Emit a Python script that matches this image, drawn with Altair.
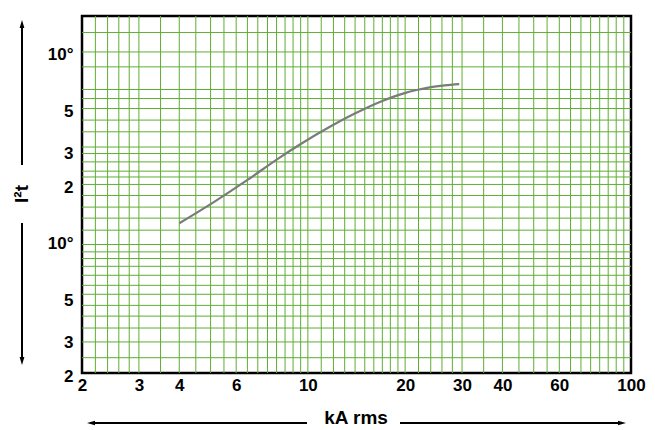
import altair as alt
import pandas as pd

# curve data (kA rms vs I²t)
curve_x = [4, 5.13, 6.47, 8.2, 9.45, 11.7, 13.97, 16.7, 19.93, 21.7, 23.8, 26.5, 29.4]
curve_y = [12.4, 16.1, 20.9, 27.7, 32.4, 40.2, 47.2, 54.4, 60.6, 62.9, 65.0, 66.6, 67.6]

# tick labels
x_ticks = [2, 3, 4, 6, 10, 20, 30, 40, 60, 100]
y_ticks = [2, 3, 5, 10, 20, 30, 50, 100]

# grid lines
x_grid = [2.2, 2.4, 2.6, 2.8, 3, 3.5, 4, 4.5, 5, 5.5, 6, 6.5, 7, 7.5, 8, 8.5, 9, 9.5,
          10, 11, 12, 13, 14, 15, 16, 17, 18, 19, 20, 22, 24, 26, 28, 30,
          35, 40, 45, 50, 55, 60, 65, 70, 75, 80, 85, 90, 95]
y_grid = [2.41, 2.92, 3.46, 4.0, 4.56, 5.22, 5.82, 6.58, 7.34, 8.07, 8.75, 9.57,
          11.4, 13.2, 15.1, 17.4, 19.9, 21.8, 23.4, 26.2, 29.0, 31.4, 37.8, 43.6,
          50.2, 56.7, 63.3, 83.4, 100, 126.8]

X_DOMAIN = [2, 100]
Y_DOMAIN = [2, 155]
GRID = "#5eae34"
FONT = "Liberation Sans"

xs = alt.Scale(type="log", domain=X_DOMAIN, nice=False)
ys = alt.Scale(type="log", domain=Y_DOMAIN, nice=False)

x_axis = alt.Axis(values=x_ticks, title=None, grid=False, ticks=False, domain=False,
                  labelFont=FONT, labelFontSize=17, labelFontWeight="bold", labelColor="black",
                  labelPadding=4, labelFlush=False, labelOverlap=False)
y_axis = alt.Axis(values=y_ticks, title=None, grid=False, ticks=False, domain=False,
                  labelFont=FONT, labelFontSize=17, labelFontWeight="bold", labelColor="black",
                  labelPadding=9, labelOffset=3, labelOverlap=False,
                  labelExpr="datum.value == 10 || datum.value == 100 ? '10°' : "
                            "(datum.value >= 20 ? format(datum.value / 10, 'd') : datum.label)")

df_curve = pd.DataFrame({"x": curve_x, "y": curve_y})
df_xg = pd.DataFrame({"x": x_grid})
df_yg = pd.DataFrame({"y": y_grid})
one = pd.DataFrame({"a": [0]})

xgrid = alt.Chart(df_xg).mark_rule(color=GRID, strokeWidth=1).encode(
    x=alt.X("x:Q", scale=xs, axis=x_axis))
ygrid = alt.Chart(df_yg).mark_rule(color=GRID, strokeWidth=1).encode(
    y=alt.Y("y:Q", scale=ys, axis=y_axis))

curve = alt.Chart(df_curve).mark_line(color="#7b7b7b", strokeWidth=2.2, interpolate="monotone").encode(
    x=alt.X("x:Q", scale=xs, axis=x_axis),
    y=alt.Y("y:Q", scale=ys, axis=y_axis),
)

def seg(x1, x2, y1, y2):
    return alt.Chart(one).mark_rule(color="black", strokeWidth=2).encode(
        x=alt.value(x1), x2=alt.value(x2), y=alt.value(y1), y2=alt.value(y2))

def head(x, y, path):
    return alt.Chart(one).mark_point(shape=path, filled=True, color="black", opacity=1, size=256,
                                     strokeWidth=0).encode(x=alt.value(x), y=alt.value(y))

AX = -60
decor = [
    seg(AX, AX, 8, 149),
    seg(AX, AX, 207, 345),
    head(AX, 8, "M0,-0.5L0.3,0.5L-0.3,0.5Z"),
    head(AX, 345, "M0,0.5L0.3,-0.5L-0.3,-0.5Z"),
    seg(9, 225, 407, 407),
    seg(318, 540, 407, 407),
    head(9, 407, "M-0.5,0L0.5,-0.27L0.5,0.27Z"),
    head(540, 407, "M0.5,0L-0.5,-0.27L-0.5,0.27Z"),
    alt.Chart(one).mark_text(text="I²t", angle=270, font=FONT, fontSize=19, fontWeight="bold",
                             color="black", baseline="middle", align="center").encode(
        x=alt.value(AX), y=alt.value(178)),
    alt.Chart(one).mark_text(text="kA rms", font=FONT, fontSize=19, fontWeight="bold",
                             color="black", baseline="middle", align="center").encode(
        x=alt.value(274), y=alt.value(402)),
]

chart = alt.layer(xgrid, ygrid, curve, *decor).properties(
    width=549, height=357,
    autosize=alt.AutoSizeParams(type="none"),
    padding={"left": 74, "top": 8, "right": 16, "bottom": 55},
).configure_view(stroke="black", strokeWidth=2.5)

chart.save("out.html", embed_options={"renderer": "svg", "actions": False})
